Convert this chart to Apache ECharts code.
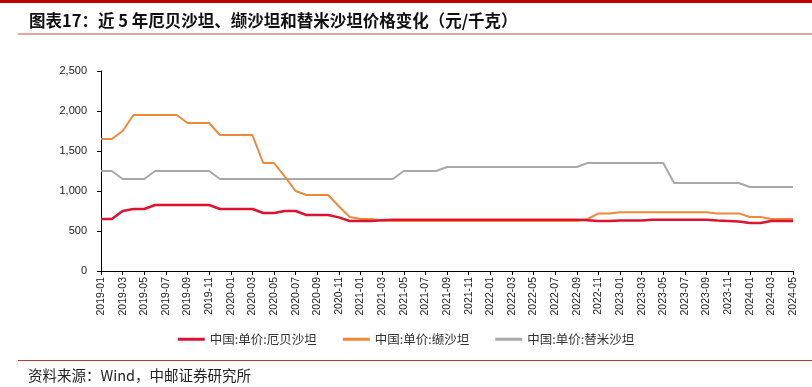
<!DOCTYPE html>
<html><head><meta charset="utf-8">
<script src="https://cdn.jsdelivr.net/npm/echarts@6/dist/echarts.min.js"></script>
<style>html,body{margin:0;padding:0;background:#fff}#c{width:812px;height:387px}</style>
</head><body><div id="c"></div>
<script>
const months = [
"2019-01","2019-02","2019-03","2019-04","2019-05","2019-06","2019-07","2019-08","2019-09","2019-10","2019-11","2019-12",
"2020-01","2020-02","2020-03","2020-04","2020-05","2020-06","2020-07","2020-08","2020-09","2020-10","2020-11","2020-12",
"2021-01","2021-02","2021-03","2021-04","2021-05","2021-06","2021-07","2021-08","2021-09","2021-10","2021-11","2021-12",
"2022-01","2022-02","2022-03","2022-04","2022-05","2022-06","2022-07","2022-08","2022-09","2022-10","2022-11","2022-12",
"2023-01","2023-02","2023-03","2023-04","2023-05","2023-06","2023-07","2023-08","2023-09","2023-10","2023-11","2023-12",
"2024-01","2024-02","2024-03","2024-04","2024-05"];
const irbesartan = [
650,650,750,775,775,825,825,825,825,825,825,775,
775,775,775,725,725,750,750,700,700,700,670,625,
625,625,635,640,640,640,640,640,640,640,640,640,
640,640,640,640,640,640,640,640,640,635,625,625,
630,630,630,640,640,640,640,640,640,630,625,620,
600,600,625,625,625];
const valsartan = [
1650,1650,1750,1950,1950,1950,1950,1950,1850,1850,1850,1700,
1700,1700,1700,1350,1350,1180,1000,950,950,950,810,675,
650,650,630,625,625,625,625,625,625,625,625,625,
625,625,625,625,625,625,625,625,625,650,720,720,
735,735,735,735,735,735,735,735,735,720,720,720,
675,675,650,650,650];
const telmisartan = [
1250,1250,1150,1150,1150,1250,1250,1250,1250,1250,1250,1150,
1150,1150,1150,1150,1150,1150,1150,1150,1150,1150,1150,1150,
1150,1150,1150,1150,1250,1250,1250,1250,1300,1300,1300,1300,
1300,1300,1300,1300,1300,1300,1300,1300,1300,1350,1350,1350,
1350,1350,1350,1350,1350,1100,1100,1100,1100,1100,1100,1100,
1050,1050,1050,1050,1050];
const seriesNames = ["中国:单价:厄贝沙坦","中国:单价:缬沙坦","中国:单价:替米沙坦"];
const titleText = "图表17：近 5 年厄贝沙坦、缬沙坦和替米沙坦价格变化（元/千克）";
const sourceText = "资料来源：Wind，中邮证券研究所";

const chart = echarts.init(document.getElementById('c'));
const F = '"Liberation Sans", Arial, "Noto Sans CJK SC", sans-serif';
chart.setOption({
  animation: false,
  textStyle: {fontFamily: F},
  title: {text: titleText, left: 24, top: 7,
    textStyle: {fontSize: 16.5, fontWeight: 'bold', color: '#111', fontFamily: '"Noto Sans CJK SC", sans-serif'}},
  graphic: [
    {type: 'rect', shape: {x: 0, y: 0, width: 812, height: 3}, style: {fill: '#c00000'}},
    {type: 'rect', shape: {x: 18, y: 33, width: 794, height: 2}, style: {fill: '#e9a3a3'}},
    {type: 'rect', shape: {x: 18, y: 360, width: 794, height: 1}, style: {fill: '#c0392b'}},
    {type: 'text', left: 28, top: 368, style: {text: sourceText, fontSize: 14.5, fill: '#222', fontFamily: '"Noto Sans CJK SC", sans-serif'}}
  ],
  legend: {
    data: seriesNames, top: 328, left: 'center', itemWidth: 27, itemHeight: 3, itemGap: 26,
    icon: 'rect',
    textStyle: {fontSize: 12.5, color: '#333', fontFamily: '"Noto Sans CJK SC", sans-serif'}
  },
  grid: {left: 101, right: 19, top: 71, bottom: 116},
  xAxis: {
    type: 'category', data: months, boundaryGap: false,
    axisLine: {lineStyle: {color: '#000', width: 1}},
    axisTick: {interval: 1, length: 4, lineStyle: {color: '#000'}},
    axisLabel: {interval: 1, rotate: 90, fontSize: 10.5, color: '#222', margin: 6, fontFamily: F}
  },
  yAxis: {
    type: 'value', min: 0, max: 2500, interval: 500,
    axisLine: {show: true, lineStyle: {color: '#000'}},
    axisTick: {show: true, length: 4, lineStyle: {color: '#000'}},
    splitLine: {show: false},
    axisLabel: {fontSize: 11, color: '#222', margin: 14,
      formatter: v => v.toLocaleString('en-US')}
  },
  series: [
    {name: seriesNames[0], type: 'line', data: irbesartan, symbol: 'none', z: 5,
      lineStyle: {color: '#dc1432', width: 2.5}, itemStyle: {color: '#dc1432'}},
    {name: seriesNames[1], type: 'line', data: valsartan, symbol: 'none', z: 4,
      lineStyle: {color: '#f0883a', width: 2}, itemStyle: {color: '#f0883a'}},
    {name: seriesNames[2], type: 'line', data: telmisartan, symbol: 'none', z: 3,
      lineStyle: {color: '#a9a9a9', width: 2}, itemStyle: {color: '#a9a9a9'}}
  ]
});
</script></body></html>
